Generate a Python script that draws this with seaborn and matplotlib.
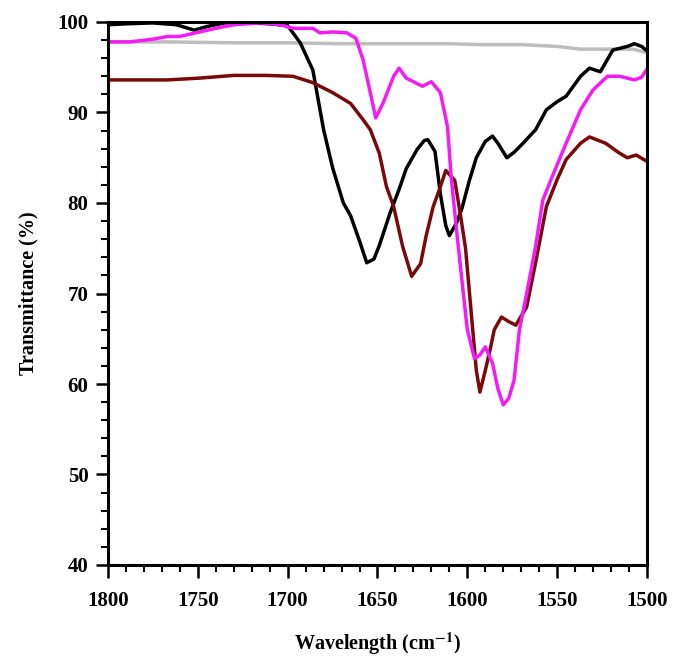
import matplotlib
matplotlib.use("Agg")
import matplotlib.pyplot as plt
import seaborn as sns
import pandas as pd
from matplotlib.ticker import MultipleLocator, FormatStrFormatter

# ---- data ----
black_x = [1800, 1790, 1775, 1762, 1752, 1745, 1735, 1720, 1710, 1700, 1693, 1686, 1682, 1680,
           1675, 1669, 1665, 1660, 1656, 1652, 1649, 1643, 1638, 1634, 1628, 1624, 1622, 1618,
           1615, 1612, 1610, 1606, 1603, 1599, 1595, 1590, 1586, 1583, 1578, 1574, 1569, 1562,
           1556, 1550, 1545, 1537, 1532, 1526, 1519, 1511, 1507, 1503, 1500]
black_y = [99.7, 99.8, 99.9, 99.7, 99.1, 99.5, 99.9, 99.9, 99.8, 99.6, 97.7, 94.7, 90.3, 88.1,
           83.9, 80.0, 78.6, 75.8, 73.4, 73.8, 75.3, 78.9, 81.5, 83.8, 85.9, 86.9, 87.0, 85.7,
           81.0, 77.5, 76.4, 77.8, 79.4, 82.4, 85.0, 86.8, 87.4, 86.6, 85.0, 85.6, 86.6, 88.1,
           90.3, 91.2, 91.8, 94.0, 94.9, 94.5, 96.9, 97.3, 97.6, 97.3, 96.8]

mag_x = [1800, 1788, 1775, 1767, 1760, 1749, 1740, 1730, 1715, 1704, 1697, 1686, 1682, 1675,
         1667, 1662, 1658, 1654, 1651, 1647, 1641, 1638, 1634, 1629, 1625, 1620, 1615, 1611,
         1609, 1606, 1602, 1600, 1596, 1593, 1590, 1586, 1583, 1580, 1577, 1574, 1571, 1566,
         1562, 1558, 1553, 1545, 1537, 1530, 1522, 1515, 1507, 1503, 1500]
mag_y = [97.8, 97.8, 98.1, 98.4, 98.4, 98.9, 99.3, 99.7, 99.9, 99.7, 99.3, 99.3, 98.8, 98.9,
         98.8, 98.2, 95.8, 92.2, 89.4, 91.0, 94.0, 94.9, 93.8, 93.3, 92.9, 93.4, 92.2, 88.4,
         82.9, 77.0, 69.6, 66.0, 62.8, 63.2, 64.1, 62.3, 59.5, 57.7, 58.4, 60.4, 66.0, 71.0,
         75.2, 80.3, 82.8, 86.6, 90.3, 92.5, 94.0, 94.0, 93.6, 93.9, 94.8]

red_x = [1800, 1786, 1767, 1749, 1730, 1712, 1697, 1686, 1675, 1665, 1658, 1654, 1649, 1645,
         1641, 1636, 1631, 1626, 1623, 1619, 1615, 1612, 1607, 1604, 1601, 1597, 1595, 1593,
         1590, 1587, 1585, 1581, 1577, 1573, 1567, 1562, 1556, 1550, 1545, 1537, 1532, 1523,
         1516, 1511, 1506, 1500]
red_y = [93.6, 93.6, 93.6, 93.8, 94.1, 94.1, 94.0, 93.3, 92.2, 91.0, 89.2, 88.1, 85.5, 81.8,
         79.6, 75.2, 71.9, 73.3, 76.3, 79.6, 81.8, 83.6, 82.5, 78.9, 75.0, 66.0, 61.5, 59.1,
         61.5, 64.1, 66.0, 67.4, 66.9, 66.5, 68.5, 73.4, 79.6, 82.6, 84.8, 86.6, 87.3, 86.6,
         85.6, 85.0, 85.3, 84.6]

grey_x = [1800, 1767, 1730, 1700, 1670, 1637, 1610, 1593, 1570, 1550, 1537, 1520, 1508, 1500]
grey_y = [97.8, 97.8, 97.7, 97.7, 97.6, 97.6, 97.6, 97.5, 97.5, 97.3, 97.0, 97.0, 97.0, 96.6]

series_names = ["grey", "black", "red", "magenta"]
colors = {"grey": "#bdbdbd", "black": "#000000", "red": "#7a0a0a", "magenta": "#f41cf4"}

frames = []
for name, xs, ys in [("grey", grey_x, grey_y), ("black", black_x, black_y),
                     ("red", red_x, red_y), ("magenta", mag_x, mag_y)]:
    frames.append(pd.DataFrame({"x": xs, "y": ys, "s": name}))
df = pd.concat(frames, ignore_index=True)

sns.set_style("white")
plt.rcParams["font.family"] = ["Liberation Serif", "DejaVu Serif"]
plt.rcParams["font.weight"] = "bold"
plt.rcParams["mathtext.fontset"] = "stix"
plt.rcParams["text.color"] = "black"
plt.rcParams["axes.labelcolor"] = "black"
plt.rcParams["xtick.color"] = "black"
plt.rcParams["ytick.color"] = "black"

fig = plt.figure(figsize=(6.73, 6.61), dpi=100)
ax = fig.add_axes([108 / 673, 1 - 565 / 661, (647 - 108) / 673, (565 - 22) / 661])

sns.lineplot(data=df, x="x", y="y", hue="s", hue_order=series_names, palette=colors,
             sort=False, estimator=None, legend=False, linewidth=2.5, ax=ax)

ax.set_xlim(1800, 1500)
ax.set_ylim(40, 100)
ax.xaxis.set_major_locator(MultipleLocator(50))
ax.xaxis.set_minor_locator(MultipleLocator(10))
ax.yaxis.set_major_locator(MultipleLocator(10))
ax.yaxis.set_minor_locator(MultipleLocator(2))
ax.xaxis.set_major_formatter(FormatStrFormatter("%d"))
ax.yaxis.set_major_formatter(FormatStrFormatter("%d"))

for sp in ax.spines.values():
    sp.set_linewidth(2.2)
    sp.set_color("black")

ax.tick_params(axis="both", which="both", bottom=True, left=True, top=False, right=False,
               colors="black")
ax.tick_params(axis="both", which="major", direction="out", length=9, width=1.8,
               labelsize=15, pad=5)
ax.tick_params(axis="both", which="minor", direction="out", length=5, width=1.5)
ax.tick_params(axis="x", which="major", pad=10)
fig.canvas.draw()
plt.setp(ax.get_xticklabels() + ax.get_yticklabels(), fontweight="bold", color="black")

ax.set_xlabel("Wavelength (cm$^{\\mathbf{-1}}$)", fontsize=14.5, fontweight="bold",
              labelpad=14, color="black")
ax.set_ylabel("Transmittance (%)", fontsize=14.5, fontweight="bold", labelpad=14,
              color="black")

fig.savefig("out.png", dpi=100)
